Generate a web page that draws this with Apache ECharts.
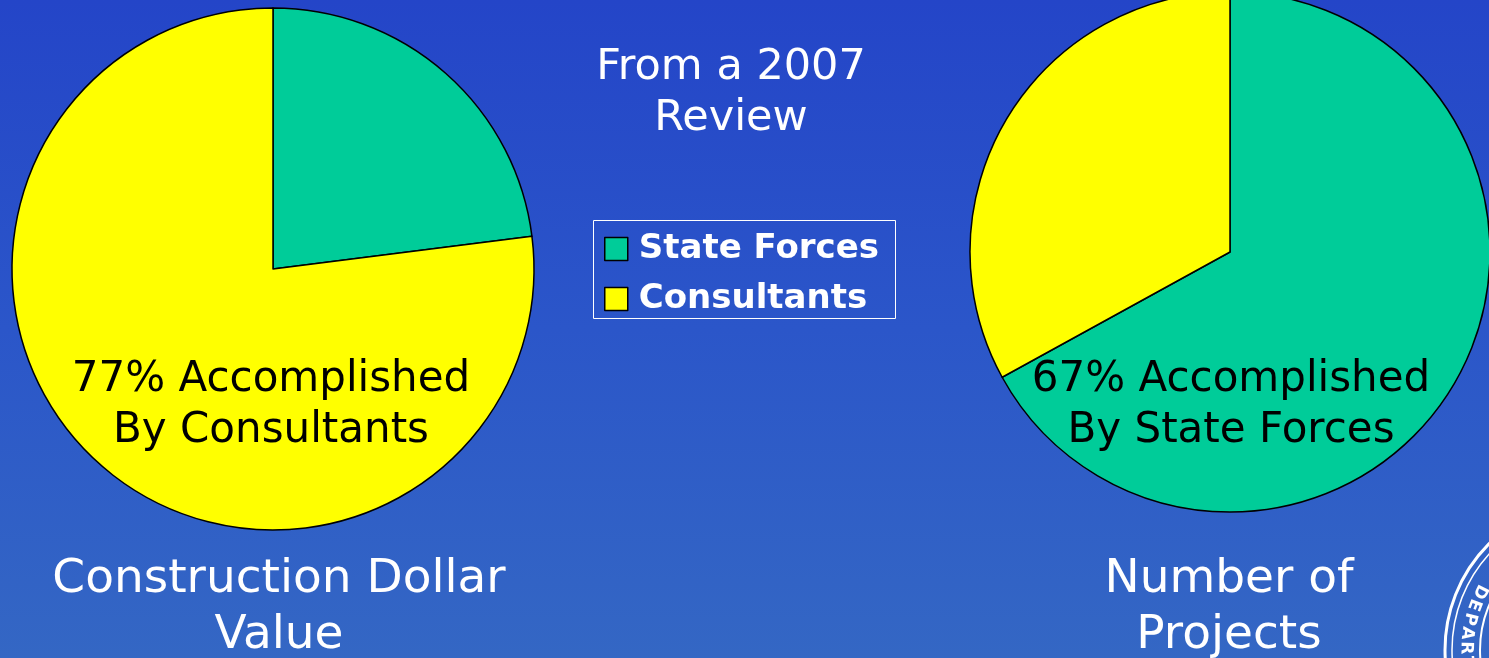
<!DOCTYPE html>
<html>
<head>
<meta charset="utf-8">
<title>From a 2007 Review</title>
<script src="https://cdn.jsdelivr.net/npm/echarts@6/dist/echarts.min.js"></script>
<style>
  html, body { margin: 0; padding: 0; background: #2b55c8; }
  #chart { width: 1489px; height: 658px; }
</style>
</head>
<body>
<div id="chart"></div>
<script>
// data
const categories = ['State Forces', 'Consultants'];
const dollarShare = [23, 77];   // Construction Dollar Value
const projectShare = [67, 33];  // Number of Projects
const pieColors = ['#00CC99', '#FFFF00'];

const font = '"DejaVu Sans", Verdana, sans-serif';
const whiteText = { color: '#fff', fontFamily: font, fontWeight: 'normal' };
const blackText = { color: '#000', fontFamily: font, fontWeight: 'normal', fontSize: 42, lineHeight: 51 };

const pieSeries = {
  type: 'pie',
  startAngle: 90,
  clockwise: true,
  silent: true,
  label: { show: false },
  labelLine: { show: false },
  itemStyle: { borderColor: '#000', borderWidth: 1.5 }
};

const toData = vals => categories.map((name, i) => ({ name, value: vals[i] }));

// seal in the bottom right corner (only its edge shows)
const sealCx = 1595, sealCy = 650;
const sealLetters = 'DEPARTM'.split('').map((ch, i) => {
  const a = (153 + i * 6.5) * Math.PI / 180;
  return {
    type: 'text',
    x: sealCx + 129 * Math.cos(a),
    y: sealCy - 129 * Math.sin(a),
    rotation: a + Math.PI / 2,
    style: { text: ch, fill: '#fff', font: 'bold 17px ' + font, align: 'center', verticalAlign: 'middle' },
    silent: true
  };
});

const chart = echarts.init(document.getElementById('chart'));
const option = {
  backgroundColor: {
    type: 'linear', x: 0, y: 0, x2: 0, y2: 1,
    colorStops: [
      { offset: 0, color: '#2445c8' },
      { offset: 0.5, color: '#2b56c9' },
      { offset: 1, color: '#3467c4' }
    ]
  },
  animation: false,
  color: pieColors,
  title: [
    {
      text: 'From a 2007\nReview',
      left: 731, top: 42, textAlign: 'center', padding: 0,
      textStyle: { ...whiteText, fontSize: 43, lineHeight: 51 }
    },
    {
      text: 'Construction Dollar\nValue',
      left: 279, top: 552, textAlign: 'center', padding: 0,
      textStyle: { ...whiteText, fontSize: 47, lineHeight: 56 }
    },
    {
      text: 'Number of\nProjects',
      left: 1229, top: 552, textAlign: 'center', padding: 0,
      textStyle: { ...whiteText, fontSize: 47, lineHeight: 56 }
    },
    {
      text: dollarShare[1] + '% Accomplished\nBy ' + categories[1],
      left: 271, top: 355, textAlign: 'center', padding: 0,
      textStyle: blackText
    },
    {
      text: projectShare[0] + '% Accomplished\nBy ' + categories[0],
      left: 1231, top: 355, textAlign: 'center', padding: 0,
      textStyle: blackText
    }
  ],
  legend: {
    data: categories,
    orient: 'vertical',
    left: 604, top: 232,
    padding: 0,
    itemGap: 16,
    itemWidth: 23,
    itemHeight: 23,
    icon: 'rect',
    selectedMode: false,
    itemStyle: { borderColor: '#000', borderWidth: 1.5 },
    textStyle: { color: '#fff', fontFamily: font, fontWeight: 'bold', fontSize: 34, padding: [0, 0, 0, 6] }
  },
  graphic: [
    {
      type: 'rect',
      shape: { x: 593.5, y: 220.5, width: 302, height: 98 },
      style: { fill: 'none', stroke: '#fff', lineWidth: 1 },
      silent: true
    },
    {
      type: 'circle',
      shape: { cx: sealCx, cy: sealCy, r: 150 },
      style: { fill: 'none', stroke: '#fff', lineWidth: 3 },
      silent: true
    },
    {
      type: 'circle',
      shape: { cx: sealCx, cy: sealCy, r: 143 },
      style: { fill: 'none', stroke: '#fff', lineWidth: 1.5 },
      silent: true
    },
    {
      type: 'circle',
      shape: { cx: sealCx, cy: sealCy, r: 115 },
      style: { fill: 'none', stroke: '#fff', lineWidth: 2 },
      silent: true
    },
    ...sealLetters
  ],
  series: [
    {
      ...pieSeries,
      name: 'Construction Dollar Value',
      center: [273, 269],
      radius: 261,
      data: toData(dollarShare)
    },
    {
      ...pieSeries,
      name: 'Number of Projects',
      center: [1230, 252],
      radius: 260,
      data: toData(projectShare)
    }
  ]
};
chart.setOption(option);
</script>
</body>
</html>
